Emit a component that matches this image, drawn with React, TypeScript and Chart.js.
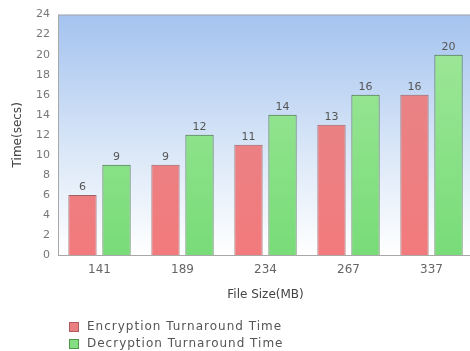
import React, { useEffect, useRef } from 'react';
import { Chart, registerables } from 'chart.js';

Chart.register(...registerables);

const categories = ['141', '189', '234', '267', '337'];
const encryption = [6, 9, 11, 13, 16];
const decryption = [9, 12, 14, 16, 20];
const seriesNames = ['Encryption Turnaround Time', 'Decryption Turnaround Time'];
const yMax = 24;
const yStep = 2;
const xTitle = 'File Size(MB)';
const yTitle = 'Time(secs)';

const FONT = '"DejaVu Sans", Verdana, sans-serif';

const bgPlugin = {
  id: 'bgPlugin',
  beforeDraw(chart: any) {
    const { ctx, chartArea: a } = chart;
    if (!a) return;
    ctx.save();
    const g = ctx.createLinearGradient(0, a.top, 0, a.bottom);
    g.addColorStop(0, '#a4c3ef');
    g.addColorStop(0.6, '#dde9f8');
    g.addColorStop(1, '#ffffff');
    ctx.fillStyle = g;
    ctx.fillRect(a.left, a.top, a.right - a.left, a.bottom - a.top);
    ctx.strokeStyle = '#a8a8a8';
    ctx.lineWidth = 1;
    ctx.strokeRect(a.left + 0.5, a.top + 0.5, a.right - a.left - 1, a.bottom - a.top);
    ctx.restore();
  },
};

const valuePlugin = {
  id: 'valuePlugin',
  afterDatasetsDraw(chart: any) {
    const { ctx } = chart;
    ctx.save();
    ctx.font = `11px ${FONT}`;
    ctx.fillStyle = '#555';
    ctx.textAlign = 'center';
    ctx.textBaseline = 'bottom';
    chart.data.datasets.forEach((ds: any, i: number) => {
      const meta = chart.getDatasetMeta(i);
      meta.data.forEach((bar: any, j: number) => {
        ctx.fillText(String(ds.data[j]), bar.x, bar.y - 2);
      });
    });
    ctx.restore();
  },
};

const legendPlugin = {
  id: 'legendPlugin',
  afterDraw(chart: any) {
    const { ctx } = chart;
    ctx.save();
    ctx.font = `12px ${FONT}`;
    (ctx as any).letterSpacing = '1px';
    ctx.textBaseline = 'middle';
    ctx.textAlign = 'left';
    chart.data.datasets.forEach((ds: any, i: number) => {
      const y = 327 + i * 17;
      ctx.fillStyle = ds.legendFill;
      ctx.fillRect(69, y - 5, 10, 10);
      ctx.strokeStyle = ds.legendStroke;
      ctx.lineWidth = 1;
      ctx.strokeRect(69.5, y - 4.5, 9, 9);
      ctx.fillStyle = '#555';
      ctx.fillText(ds.label, 87, y);
    });
    ctx.restore();
  },
};

function barGradient(top: string, bottom: string) {
  return (c: any) => {
    const a = c.chart.chartArea;
    if (!a) return bottom;
    const g = c.chart.ctx.createLinearGradient(0, a.top, 0, a.bottom);
    g.addColorStop(0, top);
    g.addColorStop(1, bottom);
    return g;
  };
}

export default function App() {
  const ref = useRef<HTMLCanvasElement | null>(null);
  useEffect(() => {
    if (!ref.current) return;
    const chart = new Chart(ref.current, {
      type: 'bar',
      data: {
        labels: categories,
        datasets: [
          {
            label: seriesNames[0],
            data: encryption,
            backgroundColor: barGradient('#e4878a', '#f27a7c'),
            borderColor: '#9a6266',
            borderWidth: 1,
            categoryPercentage: 0.82,
            barPercentage: 0.83,
            legendFill: '#ea7f82',
            legendStroke: '#b05a5e',
          } as any,
          {
            label: seriesNames[1],
            data: decryption,
            backgroundColor: barGradient('#a2e89c', '#78dc78'),
            borderColor: '#3f6a3f',
            borderWidth: 1,
            categoryPercentage: 0.82,
            barPercentage: 0.83,
            legendFill: '#86de84',
            legendStroke: '#4a9a4a',
          } as any,
        ],
      },
      options: {
        animation: false,
        responsive: false,
        maintainAspectRatio: false,
        layout: { padding: { top: 14, left: 0, right: 0, bottom: 45 } },
        plugins: {
          legend: { display: false },
          tooltip: { enabled: false },
        },
        scales: {
          x: {
            grid: { display: false, drawTicks: false },
            border: { display: false },
            ticks: { color: '#666', font: { family: FONT, size: 12 }, padding: 8 },
            title: { display: true, text: xTitle, color: '#444', font: { family: FONT, size: 12 }, padding: { top: 4, bottom: 4 } },
            afterFit(s: any) { s.height = 51; },
          },
          y: {
            min: 0,
            max: yMax,
            grid: { display: false, drawTicks: false },
            border: { display: false },
            ticks: { stepSize: yStep, color: '#777', font: { family: FONT, size: 11 }, padding: 8 },
            title: { display: true, text: yTitle, color: '#444', font: { family: FONT, size: 12 }, padding: { top: 11, bottom: 0 } },
            afterFit(s: any) { s.width = 58; },
          },
        },
      },
      plugins: [bgPlugin, valuePlugin, legendPlugin],
    });
    return () => chart.destroy();
  }, []);
  return (
    <div style={{ position: 'fixed', left: 0, top: 0, width: 470, height: 351, overflow: 'hidden', background: '#fff' }}>
      <canvas ref={ref} width={473} height={351} style={{ display: 'block', width: 473, height: 351 }} />
    </div>
  );
}
